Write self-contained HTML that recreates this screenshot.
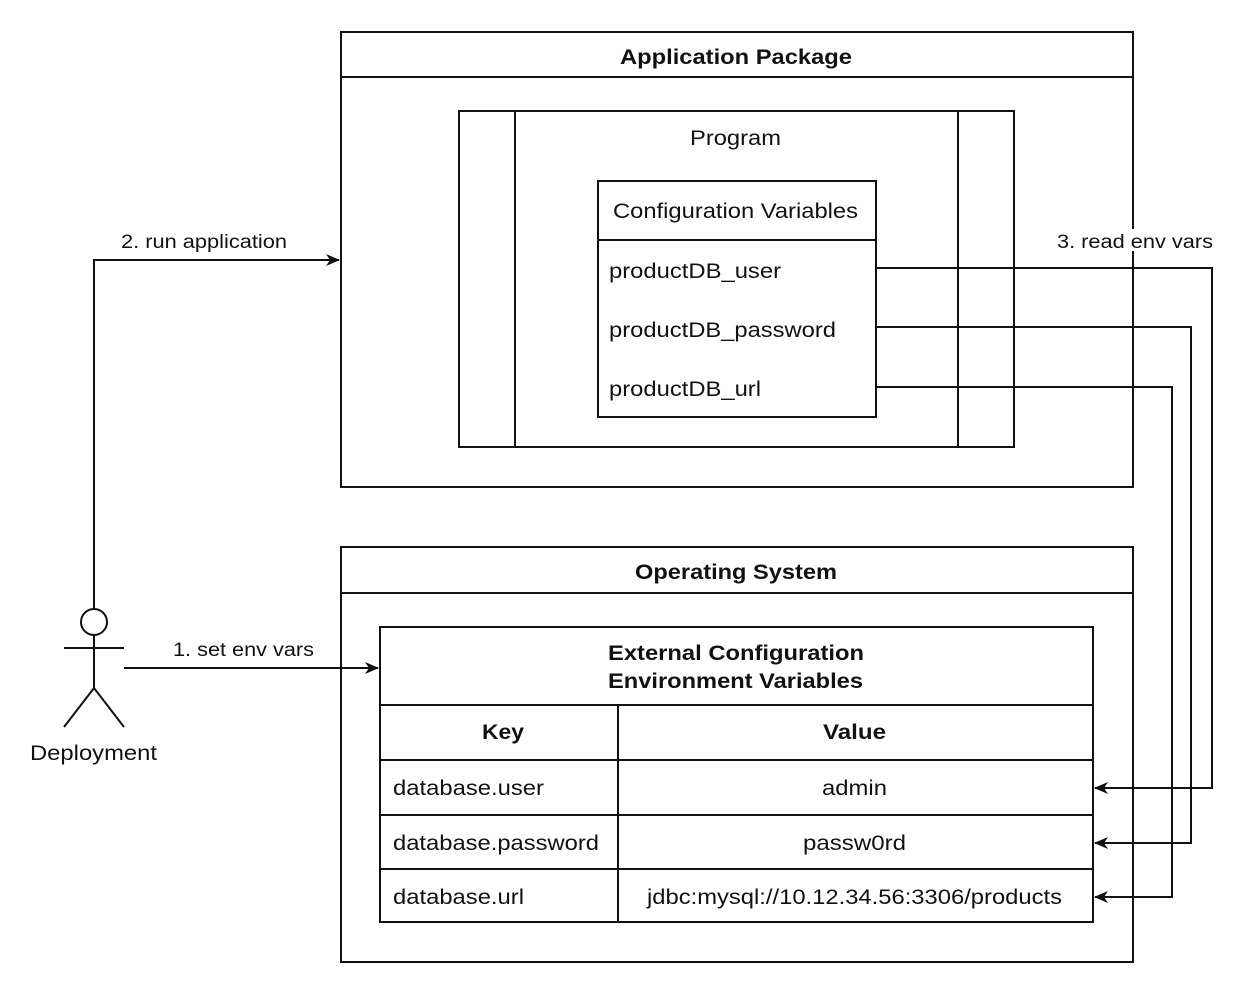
<!DOCTYPE html>
<html><head><meta charset="utf-8"><style>
html,body{margin:0;padding:0;background:#fff;}
svg{display:block;}
text{font-family:"Liberation Sans",Arial,sans-serif;fill:#111;}
</style></head><body>
<svg width="1245" height="998" viewBox="0 0 1245 998" xmlns="http://www.w3.org/2000/svg">
<defs><marker id="a" markerWidth="14" markerHeight="14" refX="13" refY="7" orient="auto" markerUnits="userSpaceOnUse"><path d="M0,1 L14,7 L0,13 L4,7 Z" fill="#111"/></marker></defs>
<g fill="none" stroke="#111" stroke-width="2">
<rect x="341" y="32" width="792" height="455"/>
<line x1="341" y1="77" x2="1133" y2="77"/>
<rect x="459" y="111" width="555" height="336"/>
<line x1="515" y1="111" x2="515" y2="447"/>
<line x1="958" y1="111" x2="958" y2="447"/>
<rect x="598" y="181" width="278" height="236"/>
<line x1="598" y1="240" x2="876" y2="240"/>
<rect x="341" y="547" width="792" height="415"/>
<line x1="341" y1="593" x2="1133" y2="593"/>
<rect x="380" y="627" width="713" height="295"/>
<line x1="380" y1="705" x2="1093" y2="705"/>
<line x1="380" y1="760" x2="1093" y2="760"/>
<line x1="380" y1="815" x2="1093" y2="815"/>
<line x1="380" y1="869" x2="1093" y2="869"/>
<line x1="618" y1="705" x2="618" y2="922"/>
<polyline points="876,268 1212,268 1212,788 1095,788" marker-end="url(#a)"/>
<polyline points="876,327 1191,327 1191,843 1095,843" marker-end="url(#a)"/>
<polyline points="876,387 1172,387 1172,897 1095,897" marker-end="url(#a)"/>
<polyline points="94,609 94,260 339,260" marker-end="url(#a)"/>
<line x1="124" y1="668" x2="378" y2="668" marker-end="url(#a)"/>
<circle cx="94" cy="622" r="13"/>
<line x1="64" y1="648" x2="124" y2="648"/>
<line x1="94" y1="635" x2="94" y2="688"/>
<polyline points="64,727 94,688 124,727"/>
</g>
<rect x="1052" y="229" width="166" height="22" fill="#fff"/>
<g font-size="21" lengthAdjust="spacingAndGlyphs">
<text x="620" y="64" font-weight="bold" textLength="232" lengthAdjust="spacingAndGlyphs">Application Package</text>
<text x="690" y="145" textLength="91" lengthAdjust="spacingAndGlyphs">Program</text>
<text x="613" y="218" textLength="245" lengthAdjust="spacingAndGlyphs">Configuration Variables</text>
<text x="609" y="278" textLength="172" lengthAdjust="spacingAndGlyphs">productDB_user</text>
<text x="609" y="337" textLength="227" lengthAdjust="spacingAndGlyphs">productDB_password</text>
<text x="609" y="396" textLength="152" lengthAdjust="spacingAndGlyphs">productDB_url</text>
<text x="635" y="579" font-weight="bold" textLength="202" lengthAdjust="spacingAndGlyphs">Operating System</text>
<text x="608" y="660" font-weight="bold" textLength="256" lengthAdjust="spacingAndGlyphs">External Configuration</text>
<text x="608" y="688" font-weight="bold" textLength="255" lengthAdjust="spacingAndGlyphs">Environment Variables</text>
<text x="482" y="739" font-weight="bold" textLength="42" lengthAdjust="spacingAndGlyphs">Key</text>
<text x="823" y="739" font-weight="bold" textLength="63" lengthAdjust="spacingAndGlyphs">Value</text>
<text x="393" y="795" textLength="151" lengthAdjust="spacingAndGlyphs">database.user</text>
<text x="822" y="795" textLength="65" lengthAdjust="spacingAndGlyphs">admin</text>
<text x="393" y="850" textLength="206" lengthAdjust="spacingAndGlyphs">database.password</text>
<text x="803" y="850" textLength="103" lengthAdjust="spacingAndGlyphs">passw0rd</text>
<text x="393" y="904" textLength="131" lengthAdjust="spacingAndGlyphs">database.url</text>
<text x="647" y="904" textLength="415" lengthAdjust="spacingAndGlyphs">jdbc:mysql://10.12.34.56:3306/products</text>
<text x="30" y="760" textLength="127" lengthAdjust="spacingAndGlyphs">Deployment</text>
</g>
<g font-size="19">
<text x="121" y="248" textLength="166" lengthAdjust="spacingAndGlyphs">2. run application</text>
<text x="173" y="656" textLength="141" lengthAdjust="spacingAndGlyphs">1. set env vars</text>
<text x="1057" y="248" textLength="156" lengthAdjust="spacingAndGlyphs">3. read env vars</text>
</g>
</svg>
</body></html>
